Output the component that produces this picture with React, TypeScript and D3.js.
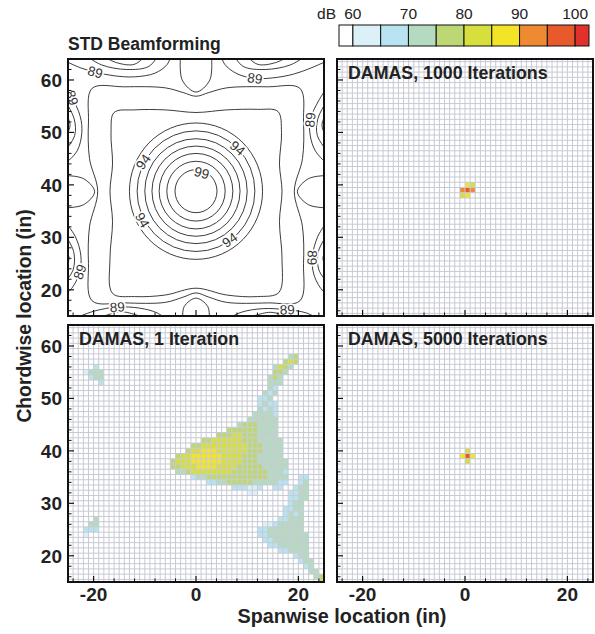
import React from "react";
import * as d3 from "d3";

const FONT = "'Liberation Sans', Arial, Helvetica, sans-serif";
type Pt = [number, number];

// axes
const xDomain: [number, number] = [-25, 25];
const yDomain: [number, number] = [15, 64];
const xMajorTicks = [-20, 0, 20];
const xMinorTicks = [-24, -16, -12, -8, -4, 4, 8, 12, 16, 24];
const yMajorTicks = [20, 30, 40, 50, 60];
const yMinorTicks = [16, 18, 22, 24, 26, 28, 32, 34, 36, 38, 42, 44, 46, 48, 52, 54, 56, 58, 62];

// colour scale (dB)
const colorThresholds = [60, 65, 70, 75, 80, 85, 90, 95, 100];
const colorBins = ["#ffffff", "#dcf0f8", "#b8e3f1", "#b4dbbf", "#bdd774", "#d6df3c", "#f4e426", "#ee8a32", "#e85a2c", "#e2312d"];
const colorbarLabels = [60, 70, 80, 90, 100];
const colorbarRange: [number, number] = [57.5, 102.5];
// representative dB per colour code 1..9
const codeLevels = [0, 62.5, 67.5, 72.5, 77.5, 82.5, 87.5, 92.5, 97.5, 102.5];

// DAMAS cells: [row from top (y = 64 - row), first column (x = -25 + col), colour codes]
const damas1Runs: [number, number, string][] = [
  [8, 5, "2"], [9, 3, "1333"], [10, 4, "233"], [11, 6, "2"],
  [37, 5, "3"], [38, 4, "33"], [39, 3, "222"], [40, 3, "1"],
  [6, 43, "34"], [7, 42, "454"], [8, 40, "3543"], [9, 40, "443"], [10, 39, "343"],
  [11, 39, "333"], [12, 39, "32"], [13, 38, "323"], [14, 37, "223"], [15, 37, "2322"],
  [16, 37, "3232"], [17, 36, "33332"], [18, 35, "333333"], [19, 33, "34443333"],
  [20, 31, "4444443333"], [21, 29, "444554443333"], [22, 26, "4455555544433333"],
  [23, 24, "445555555554443333"], [24, 23, "4556665555554443333"],
  [25, 21, "455666666555544433333"], [26, 20, "45556666665555444333333"],
  [27, 20, "44555666655554444433333"], [28, 21, "3345555555544444443332"],
  [29, 24, "2334444444444443333"], [29, 45, "22"], [30, 27, "2233444443333322"], [30, 45, "23"],
  [31, 32, "222112"], [31, 40, "22"], [31, 44, "233"], [32, 35, "11"], [32, 43, "2233"],
  [33, 43, "2233"], [34, 43, "233"], [35, 42, "2233"], [36, 42, "2323"], [37, 41, "22333"],
  [38, 38, "11233333"], [39, 37, "223333333"], [40, 37, "2233333333"], [41, 38, "223333333"],
  [42, 39, "22333333"], [43, 41, "223333"], [44, 44, "233"], [45, 45, "233"], [46, 46, "23"],
  [47, 47, "33"], [48, 48, "34"], [49, 49, "5"],
];
const damas1000Runs: [number, number, string][] = [[24, 25, "65"], [25, 24, "787"], [26, 24, "56"]];
const damas5000Runs: [number, number, string][] = [[24, 25, "5"], [25, 24, "686"], [26, 25, "5"]];

// STD beamforming contours (data units)
const ringCenter: Pt = [0, 38.8];
const ringRadii = [4.1, 5.7, 7.2, 8.6, 10.0, 11.5, 13.0];
const innerSquare: Pt[] = [
  [-16, 53.8], [-12, 54.3], [-6, 54.3], [0, 53.8], [6, 54.3], [12, 54.4], [16, 54.0],
  [16.7, 50], [16.3, 44], [16.8, 38.8], [16.3, 33], [16.8, 26], [16.2, 19.5],
  [12, 18.7], [6, 19.0], [0, 20.3], [-6, 19.0], [-12, 18.7], [-16.3, 19.3],
  [-16.8, 26], [-16.3, 33], [-16.8, 38.8], [-16.3, 44], [-16.6, 50],
];
const outerSquare: Pt[] = [
  [-20.3, 58.4], [-14, 58.7], [-6, 58.5], [-2.5, 57.6], [0, 56.9], [2.5, 57.6], [6, 58.5], [14, 58.7], [20.3, 58.4],
  [21.0, 52], [20.8, 45], [19.2, 38.8], [20.8, 32], [21.0, 25], [20.3, 17.9],
  [14, 17.5], [6, 17.6], [2.5, 18.6], [0, 19.4], [-2.5, 18.6], [-6, 17.6], [-14, 17.5], [-20.3, 17.9],
  [-21.0, 25], [-20.8, 32], [-19.2, 38.8], [-20.8, 45], [-21.0, 52],
];
const edgeOvals: Pt[][] = [
  [[-26, 41.8], [-22, 41.2], [-19.8, 38.7], [-22, 36.2], [-26, 35.6]],
  [[26, 41.8], [22, 41.2], [19.8, 38.7], [22, 36.2], [26, 35.6]],
  [[-3, 65], [-2.7, 60], [0, 57.7], [2.7, 60], [3, 65]],
  [[-2.6, 14], [-2.3, 16.8], [0, 18.4], [2.3, 16.8], [2.6, 14]],
];
const sideLobes: Pt[][] = [
  // top-left
  [[-25.5, 63.6], [-22.5, 62.3], [-19.7, 61.5], [-16, 60.8], [-12, 60.6], [-8, 61.3], [-5.6, 63], [-4.8, 65]],
  [[-22, 65], [-18.5, 62.9], [-13.5, 62.0], [-9.2, 62.6], [-7.2, 65]],
  [[-19, 65], [-15.5, 63.3], [-12, 63.0], [-9.5, 65]],
  [[-16, 65], [-13.3, 63.9], [-11, 65]],
  // top-right
  [[25.5, 63.6], [22.5, 62.3], [19, 61.1], [15, 60.4], [11.5, 60.3], [8, 61.2], [5.6, 63], [4.8, 65]],
  [[22, 65], [18.5, 62.9], [13.5, 62.0], [9.2, 62.6], [7.2, 65]],
  [[19, 65], [15.5, 63.3], [12, 63.0], [9.5, 65]],
  [[16, 65], [13.3, 63.9], [11, 65]],
  // left-upper
  [[-25.8, 58.8], [-24.2, 56.6], [-22.6, 53], [-22.3, 50], [-23.2, 46.5], [-25.8, 43.8]],
  [[-25.8, 56.4], [-23.8, 52.6], [-23.7, 49.4], [-25.8, 46.2]],
  [[-25.8, 54.3], [-24.6, 51.4], [-25.8, 48.5]],
  // right-upper
  [[25.8, 58.8], [24.1, 56.3], [22.3, 52.4], [22.3, 49.5], [23.3, 46.5], [25.8, 43.8]],
  [[25.8, 56.4], [23.8, 52.6], [23.7, 49.4], [25.8, 46.2]],
  [[25.8, 54.3], [24.6, 51.4], [25.8, 48.5]],
  // left-lower
  [[-25.8, 33.2], [-23.6, 30.2], [-22.5, 26.6], [-22.7, 23.4], [-24.1, 20.5], [-25.8, 18.8]],
  [[-25.8, 30.8], [-23.9, 27.3], [-24.0, 23.8], [-25.8, 21.2]],
  [[-25.8, 28.6], [-24.8, 26.0], [-25.8, 23.4]],
  // right-lower
  [[25.8, 33.2], [23.8, 30.2], [22.7, 26.1], [23.0, 23.0], [24.2, 20.5], [25.8, 18.8]],
  [[25.8, 30.8], [23.9, 27.3], [24.0, 23.8], [25.8, 21.2]],
  [[25.8, 28.6], [24.8, 26.0], [25.8, 23.4]],
  // bottom-left
  [[-24, 14.4], [-20, 15.9], [-15.4, 16.7], [-11, 16.5], [-7.6, 15.6], [-5.8, 14.4]],
  [[-19.5, 14.4], [-14.5, 15.8], [-9.5, 14.4]],
  // bottom-right
  [[24, 14.4], [21.5, 15.6], [17.8, 16.2], [13, 16.4], [8.8, 15.7], [6.2, 14.4]],
  [[19.5, 14.4], [14.5, 15.7], [9.5, 14.4]],
];
const contourLabels: [number, number, number, string][] = [
  [1.1, 42.3, 15, "99"], [8.1, 47.0, 40, "94"], [-10.3, 44.4, -55, "94"], [-10.5, 33.3, 60, "94"],
  [6.6, 29.5, -35, "94"], [-19.7, 61.5, 15, "89"], [11.5, 60.3, 8, "89"], [-24.2, 56.6, 72, "89"],
  [22.3, 52.4, -85, "89"], [-22.7, 23.4, -70, "89"], [22.7, 26.1, 92, "89"], [-15.4, 16.7, -3, "89"],
  [17.8, 16.2, -3, "89"],
];

const PW = 256;
const PH = 257;
const panels = [
  { id: "std", x0: 68, y0: 59, title: "STD Beamforming", showX: false, showY: true },
  { id: "d1000", x0: 337, y0: 59, title: "DAMAS, 1000 Iterations", showX: false, showY: false },
  { id: "d1", x0: 68, y0: 325, title: "DAMAS, 1 Iteration", showX: true, showY: true },
  { id: "d5000", x0: 337, y0: 325, title: "DAMAS, 5000 Iterations", showX: true, showY: false },
];
const runsById: Record<string, [number, number, string][]> = {
  d1: damas1Runs, d1000: damas1000Runs, d5000: damas5000Runs,
};

const colorScale = d3.scaleThreshold<number, string>().domain(colorThresholds).range(colorBins);

export default function App() {
  const cbX = d3.scaleLinear().domain(colorbarRange).range([339, 589]);
  const cbEdges = [colorbarRange[0], ...colorThresholds, colorbarRange[1]];

  const renderPanel = (p: typeof panels[number]) => {
    const xs = d3.scaleLinear().domain(xDomain).range([p.x0, p.x0 + PW]);
    const ys = d3.scaleLinear().domain(yDomain).range([p.y0 + PH, p.y0]);
    const clipId = `clip-${p.id}`;
    const content: React.ReactNode[] = [];
    if (p.id === "std") {
      const closed = d3.line<Pt>().x((d) => xs(d[0])).y((d) => ys(d[1])).curve(d3.curveCatmullRomClosed.alpha(0.5));
      const open = d3.line<Pt>().x((d) => xs(d[0])).y((d) => ys(d[1])).curve(d3.curveCatmullRom.alpha(0.5));
      const kx = PW / (xDomain[1] - xDomain[0]);
      const ky = PH / (yDomain[1] - yDomain[0]);
      const stroke = { fill: "none", stroke: "#1a1a1a", strokeWidth: 0.85 };
      ringRadii.forEach((r, i) =>
        content.push(
          <ellipse key={`r${i}`} cx={xs(ringCenter[0])} cy={ys(ringCenter[1])} rx={r * kx} ry={r * ky} {...stroke} />
        )
      );
      content.push(<path key="sq1" d={closed(innerSquare) || ""} {...stroke} />);
      content.push(<path key="sq2" d={closed(outerSquare) || ""} {...stroke} />);
      edgeOvals.forEach((o, i) => content.push(<path key={`o${i}`} d={open(o) || ""} {...stroke} />));
      sideLobes.forEach((o, i) => content.push(<path key={`s${i}`} d={open(o) || ""} {...stroke} />));
      contourLabels.forEach(([x, y, rot, t], i) =>
        content.push(
          <text key={`l${i}`} transform={`translate(${xs(x)},${ys(y)}) rotate(${rot})`} textAnchor="middle" dy="0.35em"
            fontFamily={FONT} fontSize={13.5} fill="#333" stroke="#fff" strokeWidth={3.5} paintOrder="stroke">{t}</text>
        )
      );
    } else {
      const runs = runsById[p.id];
      runs.forEach(([row, col, codes], ri) => {
        codes.split("").forEach((ch, k) => {
          const code = +ch;
          const xc = xDomain[0] + col + k;
          const yc = yDomain[1] - row;
          const x0 = xs(xc), x1 = xs(xc + 1);
          const yt = ys(Math.min(yc + 0.5, yDomain[1])), yb = ys(Math.max(yc - 0.5, yDomain[0]));
          content.push(
            <rect key={`c${ri}-${k}`} x={x0} y={yt} width={x1 - x0} height={yb - yt} fill={colorScale(codeLevels[code])} />
          );
        });
      });
      d3.range(xDomain[0] + 1, xDomain[1]).forEach((x) =>
        content.push(<line key={`gx${x}`} x1={xs(x)} x2={xs(x)} y1={p.y0} y2={p.y0 + PH} stroke="#c7cad4" strokeWidth={1} />)
      );
      d3.range(yDomain[0] + 0.5, yDomain[1], 1).forEach((y) =>
        content.push(<line key={`gy${y}`} x1={p.x0} x2={p.x0 + PW} y1={ys(y)} y2={ys(y)} stroke="#c7cad4" strokeWidth={1} />)
      );
    }
    const ticks: React.ReactNode[] = [];
    xMajorTicks.forEach((t) => ticks.push(<line key={`xM${t}`} x1={xs(t)} x2={xs(t)} y1={p.y0 + PH} y2={p.y0 + PH - 6} stroke="#111" strokeWidth={1.2} />));
    xMinorTicks.forEach((t) => ticks.push(<line key={`xm${t}`} x1={xs(t)} x2={xs(t)} y1={p.y0 + PH} y2={p.y0 + PH - 3.5} stroke="#111" strokeWidth={1} />));
    yMajorTicks.forEach((t) => ticks.push(<line key={`yM${t}`} x1={p.x0} x2={p.x0 + 6} y1={ys(t)} y2={ys(t)} stroke="#111" strokeWidth={1.2} />));
    yMinorTicks.forEach((t) => ticks.push(<line key={`ym${t}`} x1={p.x0} x2={p.x0 + 3.5} y1={ys(t)} y2={ys(t)} stroke="#111" strokeWidth={1} />));
    return (
      <g key={p.id}>
        <defs>
          <clipPath id={clipId}><rect x={p.x0} y={p.y0} width={PW} height={PH} /></clipPath>
        </defs>
        <rect x={p.x0} y={p.y0} width={PW} height={PH} fill="#fff" />
        <g clipPath={`url(#${clipId})`}>{content}</g>
        {ticks}
        <rect x={p.x0} y={p.y0} width={PW} height={PH} fill="none" stroke="#111" strokeWidth={2} />
        {p.id === "std" ? (
          <text x={p.x0} y={50} fontFamily={FONT} fontSize={17.5} fontWeight="bold" fill="#222">{p.title}</text>
        ) : (
          <text x={p.x0 + 11} y={p.y0 + 20} fontFamily={FONT} fontSize={17.8} fontWeight="bold" fill="#222">{p.title}</text>
        )}
        {p.showY && yMajorTicks.map((t) => (
          <text key={`yl${t}`} x={p.x0 - 6} y={ys(t)} dy="0.36em" textAnchor="end" fontFamily={FONT} fontSize={19} fontWeight="bold" fill="#222">{t}</text>
        ))}
        {p.showX && xMajorTicks.map((t) => (
          <text key={`xl${t}`} x={xs(t)} y={601} textAnchor="middle" fontFamily={FONT} fontSize={19} fontWeight="bold" fill="#222">{t}</text>
        ))}
      </g>
    );
  };

  return (
    <svg width={595} height={634} style={{ display: "block", position: "absolute", left: 0, top: 0 }}>
      <rect width={595} height={634} fill="#fff" />
      {panels.map(renderPanel)}
      {cbEdges.slice(0, -1).map((e, i) => (
        <rect key={`cb${i}`} x={cbX(e)} y={25} width={cbX(cbEdges[i + 1]) - cbX(e)} height={21} fill={colorBins[i]} stroke="#111" strokeWidth={1} />
      ))}
      {colorbarLabels.map((v) => (
        <text key={`cbl${v}`} x={cbX(v)} y={19} textAnchor="middle" fontFamily={FONT} fontSize={15.5} fill="#222">{v}</text>
      ))}
      <text x={336} y={19} textAnchor="end" fontFamily={FONT} fontSize={15.5} fill="#222">dB</text>
      <text x={342} y={623} textAnchor="middle" fontFamily={FONT} fontSize={19.8} fontWeight="bold" fill="#222">Spanwise location (in)</text>
      <text transform="translate(31,316) rotate(-90)" textAnchor="middle" fontFamily={FONT} fontSize={19.3} fontWeight="bold" fill="#222">Chordwise location (in)</text>
    </svg>
  );
}
